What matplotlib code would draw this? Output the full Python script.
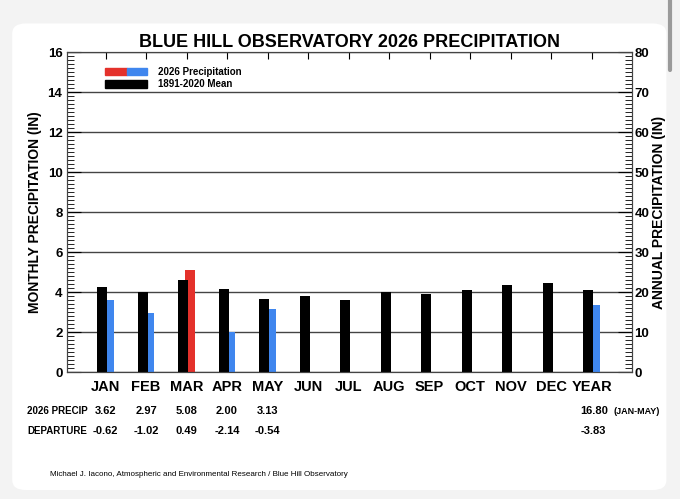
import numpy as np
import matplotlib
matplotlib.use('Agg')
import matplotlib.pyplot as plt
import matplotlib.transforms as mtransforms
from matplotlib.patches import FancyBboxPatch, Rectangle
from matplotlib.ticker import MultipleLocator

plt.rcParams['font.family'] = ['Liberation Sans', 'DejaVu Sans']

# data
months = ['JAN', 'FEB', 'MAR', 'APR', 'MAY', 'JUN', 'JUL', 'AUG', 'SEP', 'OCT', 'NOV', 'DEC', 'YEAR']
mean_monthly = [4.24, 3.99, 4.59, 4.14, 3.67, 3.78, 3.61, 3.99, 3.90, 4.12, 4.34, 4.47]
obs_monthly = [3.62, 2.97, 5.08, 2.00, 3.13]
mean_year = 20.63   # jan-may mean, annual axis
obs_year = 16.80
precip_labels = ['3.62', '2.97', '5.08', '2.00', '3.13']
depart_labels = ['-0.62', '-1.02', '0.49', '-2.14', '-0.54']
year_precip = '16.80'
year_depart = '-3.83'

RED = '#e4312b'
BLUE = '#3f86ee'

fig = plt.figure(figsize=(6.8, 4.99), dpi=100)
fig.patch.set_facecolor('#f3f3f3')
# white card like the screenshot
card = FancyBboxPatch((0.018, 0.018), 0.962, 0.935, boxstyle='round,pad=0,rounding_size=0.02',
                      transform=fig.transFigure, facecolor='white', edgecolor='none', zorder=-10)
fig.add_artist(card)
fig.add_artist(plt.Line2D([0.986, 0.986], [0.86, 1.0], color='#9a9a9a', lw=3,
                          solid_capstyle='round', transform=fig.transFigure, zorder=-5))

ax = fig.add_axes([0.098, 0.2545, 0.831, 0.641])
ax.set_facecolor('white')
x = np.arange(len(months))
w = 0.25
off = 0.08

# observed bars behind the mean bars
obs_colors = [RED if o > m else BLUE for o, m in zip(obs_monthly, mean_monthly)]
ax.bar(x[:5] + off, obs_monthly, width=w, color=obs_colors, zorder=2)
ax.bar(x[:12] - off, mean_monthly, width=w, color='black', zorder=3)

ax.set_xlim(-0.96, 12.99)
ax.set_ylim(0, 16)
ax.yaxis.set_major_locator(MultipleLocator(2))
ax.yaxis.set_minor_locator(MultipleLocator(0.2))
ax.grid(axis='y', which='major', color='#444444', lw=1.0, zorder=1)
ax.set_xticks(x)
ax.set_xticklabels(months, fontsize=10.5, fontweight='bold')
ax.tick_params(axis='x', which='both', direction='in', top=True, bottom=False, length=5, pad=6)
ax.tick_params(axis='y', which='major', direction='in', length=10, labelsize=9.5, pad=3)
ax.tick_params(axis='y', which='minor', direction='in', length=5)
for lab in ax.get_yticklabels():
    lab.set_fontweight('bold')
ax.set_ylabel('MONTHLY PRECIPITATION (IN)', fontsize=10, fontweight='bold', labelpad=4)
for s in ax.spines.values():
    s.set_color('#444444')

ax2 = ax.twinx()
ax2.set_ylim(0, 80)
ax2.bar([12 + off], [obs_year], width=w, color=BLUE, zorder=2)
ax2.bar([12 - off], [mean_year], width=w, color='black', zorder=3)
ax2.yaxis.set_major_locator(MultipleLocator(10))
ax2.yaxis.set_minor_locator(MultipleLocator(1))
ax2.tick_params(axis='y', which='major', direction='in', length=10, labelsize=9.5, pad=2)
ax2.tick_params(axis='y', which='minor', direction='in', length=5)
for lab in ax2.get_yticklabels():
    lab.set_fontweight('bold')
ax2.set_ylabel('ANNUAL PRECIPITATION (IN)', fontsize=10, fontweight='bold', labelpad=2)
for s in ax2.spines.values():
    s.set_color('#444444')

ax.set_title('BLUE HILL OBSERVATORY 2026 PRECIPITATION', fontsize=13, fontweight='bold', pad=4)

# legend swatches
ax.add_patch(Rectangle((0.068, 0.928), 0.039, 0.022, transform=ax.transAxes, color=RED, zorder=5))
ax.add_patch(Rectangle((0.107, 0.928), 0.036, 0.022, transform=ax.transAxes, color=BLUE, zorder=5))
ax.add_patch(Rectangle((0.068, 0.888), 0.075, 0.024, transform=ax.transAxes, color='black', zorder=5))
ax.text(0.162, 0.939, '2026 Precipitation', transform=ax.transAxes, fontsize=7, fontweight='bold',
        va='center', zorder=5)
ax.text(0.162, 0.900, '1891-2020 Mean', transform=ax.transAxes, fontsize=7, fontweight='bold',
        va='center', zorder=5)

# table under the chart
bt = mtransforms.blended_transform_factory(ax.transData, fig.transFigure)
y_p = 1 - 411 / 499
y_d = 1 - 431 / 499
fig.text(0.040, y_p, '2026 PRECIP', fontsize=7, fontweight='bold', va='center')
fig.text(0.040, y_d, 'DEPARTURE', fontsize=7, fontweight='bold', va='center')
for i in range(len(precip_labels)):
    ax.text(x[i], y_p, precip_labels[i], transform=bt, fontsize=8, fontweight='bold',
            ha='center', va='center')
    ax.text(x[i], y_d, depart_labels[i], transform=bt, fontsize=8, fontweight='bold',
            ha='center', va='center')
ax.text(11.72, y_p, year_precip, transform=bt, fontsize=8, fontweight='bold', va='center')
ax.text(12.55, y_p, '(JAN-MAY)', transform=bt, fontsize=6.5, fontweight='bold', va='center')
ax.text(11.72, y_d, year_depart, transform=bt, fontsize=8, fontweight='bold', va='center')

fig.text(0.073, 1 - 474 / 499,
         'Michael J. Iacono, Atmospheric and Environmental Research / Blue Hill Observatory',
         fontsize=5.8, va='center')

fig.savefig('out.png', dpi=100, facecolor=fig.get_facecolor())
